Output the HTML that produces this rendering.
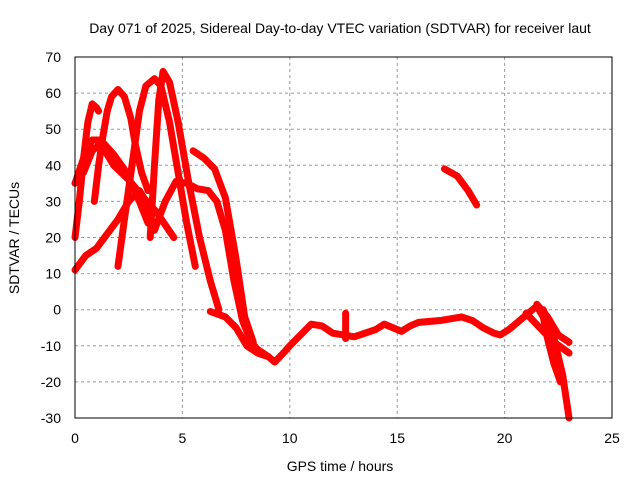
<!DOCTYPE html>
<html><head><meta charset="utf-8"><style>
body{margin:0;background:#fff}
svg text{font-family:"Liberation Sans",sans-serif;font-size:14px;fill:#000}
</style></head><body>
<svg id="chart" width="640" height="480">
<text x="340" y="33" text-anchor="middle">Day 071 of 2025, Sidereal Day-to-day VTEC variation (SDTVAR) for receiver laut</text>
<text x="340" y="471" text-anchor="middle">GPS time / hours</text>
<text transform="translate(19,238) rotate(-90)" text-anchor="middle">SDTVAR / TECUs</text>
<g id="grid"></g><g id="ticks"></g><g id="series"></g>
<rect x="75" y="57" width="537" height="361" fill="none" stroke="#000" stroke-width="1"/>
</svg>
<script>
const xTicks=[0,5,10,15,20,25];
const yTicks=[-30,-20,-10,0,10,20,30,40,50,60,70];
const s1=[[0,20],[0.2,30],[0.4,42],[0.6,52],[0.8,57],[1.0,56],[1.1,55]];
const s2=[[0,35],[0.4,42],[0.8,47],[1.2,47],[1.8,43],[2.4,38],[3,30],[3.4,24]];
const s3=[[0.4,38],[0.8,44],[1.2,46],[1.8,40],[2.5,36],[3.2,31],[3.8,27],[4.6,20]];
const s4=[[0.9,30],[1.1,40],[1.3,48],[1.5,55],[1.7,59],[2.0,61],[2.3,59],[2.6,53],[2.8,46],[3.1,38],[3.4,33]];
const s5=[[2,12],[2.3,25],[2.7,42],[3.0,55],[3.3,62],[3.7,64],[4.0,62],[4.4,52],[4.8,38],[5.2,24],[5.6,12]];
const s6=[[3.5,20],[3.7,40],[3.9,58],[4.1,66],[4.4,63],[4.8,52],[5.3,35],[5.8,20],[6.3,8],[6.7,0]];
const s7=[[0,11],[0.5,15],[1,17],[1.5,21],[2,25],[2.5,30],[3,33],[3.3,30],[3.7,22],[4.2,30],[4.7,35.5],[5.2,35],[5.7,33.5],[6.2,33],[6.6,30],[7,22],[7.4,8],[7.8,-3],[8.2,-9],[8.5,-11],[9,-13],[9.3,-14.5],[9.7,-12],[10,-10],[10.5,-7],[11,-4],[11.5,-4.5],[12,-6.5],[12.5,-7],[13,-7.5],[13.5,-6.5],[14,-5.5],[14.4,-4],[14.8,-5],[15.2,-6],[15.6,-4.5],[16,-3.5],[17,-3],[18,-2],[18.5,-3],[19,-5],[19.5,-6.5],[19.8,-7],[20.2,-5.5],[20.7,-3],[21.2,-0.5],[21.5,1],[21.8,-2],[22,-8],[22.3,-15],[22.6,-20]];
const s8=[[21.5,1.5],[22,-2],[22.5,-7],[23,-9]];
const s9=[[21,-1],[21.8,-6],[22.3,-9],[23,-12]];
const s10=[[21.8,0],[22.3,-8],[22.7,-18],[23,-30]];
const s11=[[5.5,44],[6,42],[6.5,39],[7,31],[7.5,14],[7.9,-2],[8.3,-9]];
const s12=[[6.3,-0.5],[7,-2],[7.5,-5],[8,-10],[8.5,-12],[9,-13]];
const s13=[[17.2,39],[17.8,37],[18.3,33],[18.7,29]];
const s14=[[12.6,-1],[12.6,-8]];
const allSeries=[s1,s2,s3,s4,s5,s6,s7,s8,s9,s10,s11,s12,s13,s14];
const X=t=>75+t*537/25, Y=v=>57+(70-v)*361/100;
const NS="http://www.w3.org/2000/svg";
const grid=document.getElementById('grid'),ticks=document.getElementById('ticks'),ser=document.getElementById('series');
function mk(tag,a,p){const e=document.createElementNS(NS,tag);for(const k in a)e.setAttribute(k,a[k]);p.appendChild(e);return e;}
xTicks.forEach(t=>{
 if(t>0&&t<25){const g=mk('line',{x1:X(t),x2:X(t),y1:57,y2:418,stroke:'#999','stroke-dasharray':'3,3'},grid);
 
 }
 const l=mk('text',{x:X(t),y:443,'text-anchor':'middle'},ticks);l.textContent=t;
 
 
});
yTicks.forEach(v=>{
 if(v>-30&&v<70){const g=mk('line',{x1:75,x2:612,y1:Y(v),y2:Y(v),stroke:'#999','stroke-dasharray':'3,3'},grid);
 
 }
 const l=mk('text',{x:61,y:Y(v)+5,'text-anchor':'end'},ticks);l.textContent=v;
 
 
});
allSeries.forEach((s,i)=>{
 const p=mk('polyline',{points:s.map(d=>X(d[0])+','+Y(d[1])).join(' '),fill:'none',stroke:'#f00','stroke-width':7,'stroke-linejoin':'round','stroke-linecap':'round'},ser);
 
 
});
</script>
</body></html>
